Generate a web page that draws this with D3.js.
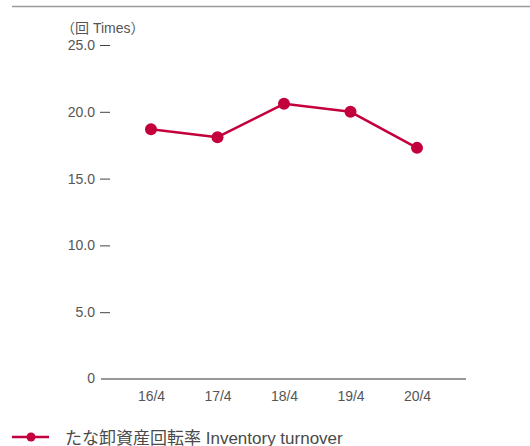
<!DOCTYPE html>
<html><head><meta charset="utf-8">
<script src="https://cdn.jsdelivr.net/npm/d3@7"></script>
<style>
html,body{margin:0;padding:0;background:#fff;}
svg{display:block;}
text{font-family:"Liberation Sans","Noto Sans CJK JP",sans-serif;}
</style></head>
<body>
<script>
const categories = ["16/4","17/4","18/4","19/4","20/4"];
const values = [18.7, 18.1, 20.6, 20.0, 17.3];
const yTicks = [0, 5, 10, 15, 20, 25];
const yTickLabels = ["0","5.0","10.0","15.0","20.0","25.0"];
const unitLabel = "（回 Times）";
const legendLabel = "たな卸資産回転率 Inventory turnover";

const W = 530, H = 446;
const color = "#c4003c";
const txt = "#555";
const svg = d3.select("body").append("svg").attr("width", W).attr("height", H);

// top rule
svg.append("line").attr("x1", 12).attr("x2", W).attr("y1", 6.5).attr("y2", 6.5)
  .attr("stroke", "#9a9a9a").attr("stroke-width", 1.5);

const y = d3.scaleLinear().domain([0, 25]).range([379, 45]);
const x = d3.scalePoint().domain(categories).range([151, 417]);

// y axis ticks
const yAxis = d3.axisLeft(y).tickValues(yTicks.slice(1))
  .tickFormat((d) => yTickLabels[yTicks.indexOf(d)])
  .tickSize(10).tickPadding(5);
const gy = svg.append("g").attr("transform", "translate(110,0)").call(yAxis);
gy.select(".domain").remove();
gy.selectAll(".tick line").attr("stroke", "#444").attr("stroke-width", 1);
gy.selectAll(".tick text").attr("fill", txt).style("font-size", "14px");

// zero label
svg.append("text").attr("x", 95).attr("y", y(0)).attr("dy", "0.32em")
  .attr("text-anchor", "end").attr("fill", txt).style("font-size", "14px").text(yTickLabels[0]);

// baseline
svg.append("line").attr("x1", 101).attr("x2", 466).attr("y1", y(0)).attr("y2", y(0))
  .attr("stroke", "#333").attr("stroke-width", 1.2);

// x axis labels
const xAxis = d3.axisBottom(x).tickSize(0).tickPadding(12);
const gx = svg.append("g").attr("transform", `translate(0,${y(0)})`).call(xAxis);
gx.select(".domain").remove();
gx.selectAll(".tick text").attr("fill", txt).style("font-size", "14px");

// unit label
svg.append("text").attr("x", 61).attr("y", 33).attr("fill", txt)
  .style("font-size", "14px").text(unitLabel);

// line
const line = d3.line().x((d, i) => x(categories[i])).y((d) => y(d));
svg.append("path").datum(values).attr("d", line).attr("fill", "none")
  .attr("stroke", color).attr("stroke-width", 2.5).attr("stroke-linejoin", "round");
svg.selectAll("circle.pt").data(values).enter().append("circle").attr("class", "pt")
  .attr("cx", (d, i) => x(categories[i])).attr("cy", (d) => y(d)).attr("r", 6)
  .attr("fill", color);

// legend
svg.append("line").attr("x1", 12).attr("x2", 49).attr("y1", 437).attr("y2", 437)
  .attr("stroke", color).attr("stroke-width", 2.5);
svg.append("circle").attr("cx", 31).attr("cy", 437).attr("r", 4.5).attr("fill", color);
svg.append("text").attr("x", 65).attr("y", 443.5).attr("fill", "#4a4a4a")
  .style("font-size", "17px").text(legendLabel);
</script>
</body></html>
